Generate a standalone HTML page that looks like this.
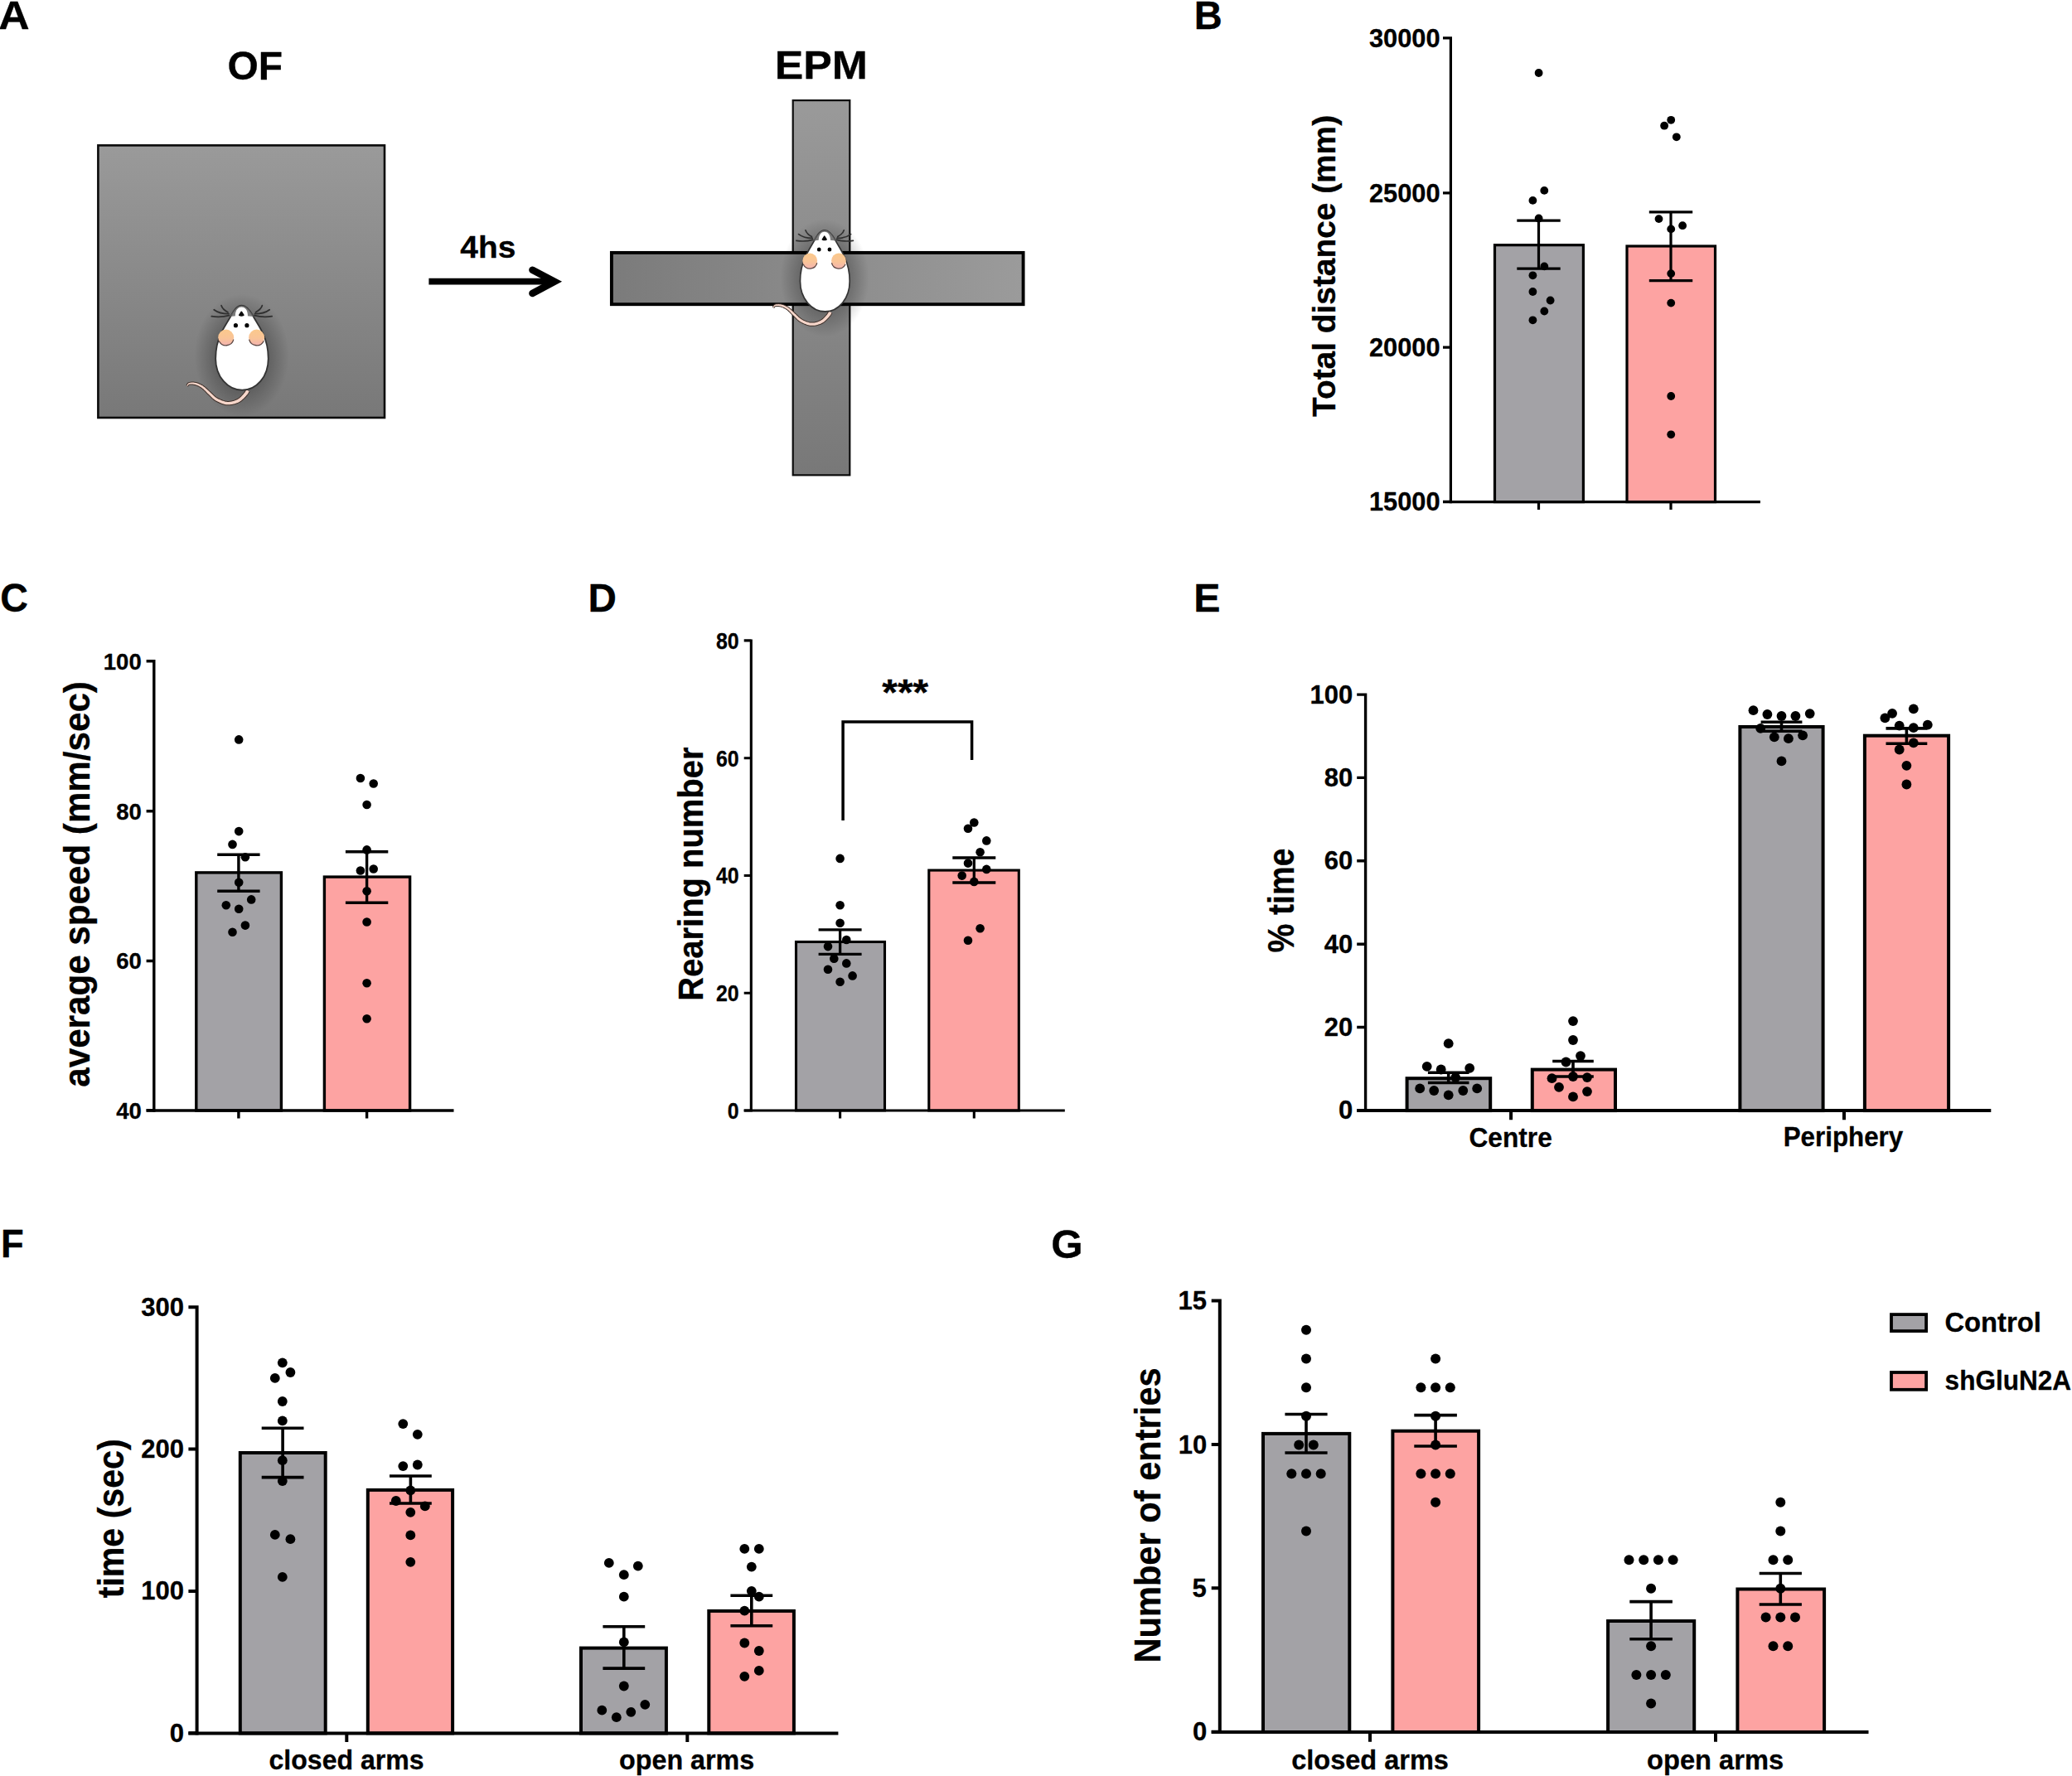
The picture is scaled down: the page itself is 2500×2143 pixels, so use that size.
<!DOCTYPE html>
<html lang="en"><head><meta charset="utf-8"><title>Figure</title>
<style>
html,body{margin:0;padding:0;background:#fff}
body{width:2500px;height:2143px;overflow:hidden}
svg{display:block}
text{font-family:"Liberation Sans", sans-serif;font-weight:bold;fill:#000;stroke:#000;stroke-width:.3px;stroke-linejoin:round}
</style></head><body>
<svg width="2500" height="2143" viewBox="0 0 2500 2143">
<defs>
<linearGradient id="gv" x1="0" y1="0" x2="0" y2="1"><stop offset="0" stop-color="#9a9a9a"/><stop offset="1" stop-color="#787878"/></linearGradient>
<linearGradient id="gh" x1="0" y1="0" x2="1" y2="0"><stop offset="0" stop-color="#7b7b7b"/><stop offset="1" stop-color="#9b9b9b"/></linearGradient>
<radialGradient id="sh" cx="0.5" cy="0.5" r="0.5"><stop offset="0" stop-color="#000" stop-opacity="0.42"/><stop offset="0.45" stop-color="#000" stop-opacity="0.3"/><stop offset="1" stop-color="#000" stop-opacity="0"/></radialGradient>
<linearGradient id="ear" x1="0" y1="0" x2="0" y2="1"><stop offset="0" stop-color="#fbc98c"/><stop offset="0.55" stop-color="#f9c497"/><stop offset="1" stop-color="#f3b3b0"/></linearGradient>
<g id="mouse">
<ellipse cx="0" cy="60" rx="58" ry="74" fill="url(#sh)"/>
<path d="M4.9 100.9L4.7 101.2L4.5 101.6L4.3 102.0L4.1 102.3L3.9 102.7L3.6 103.1L3.4 103.5L3.1 104.0L2.9 104.4L2.5 104.8L2.2 105.3L1.8 105.7L1.3 106.3L0.7 106.9L0.1 107.5L-0.5 108.2L-1.1 108.8L-1.8 109.5L-2.5 110.1L-3.2 110.7L-3.9 111.2L-4.6 111.7L-5.3 112.2L-6.0 112.6L-6.8 112.9L-7.7 113.3L-8.7 113.7L-9.6 114.0L-10.6 114.3L-11.7 114.6L-12.7 114.8L-13.7 115.0L-14.7 115.1L-15.7 115.2L-16.7 115.2L-17.6 115.2L-18.5 115.1L-19.5 115.0L-20.5 114.8L-21.5 114.5L-22.6 114.2L-23.6 113.8L-24.7 113.4L-25.7 113.0L-26.7 112.5L-27.7 112.1L-28.7 111.6L-29.5 111.1L-30.3 110.7L-31.0 110.2L-31.7 109.7L-32.4 109.2L-33.0 108.6L-33.7 108.0L-34.3 107.4L-35.0 106.8L-35.7 106.1L-36.4 105.5L-37.1 104.8L-37.8 104.1L-38.5 103.5L-39.3 102.9L-40.0 102.2L-40.7 101.5L-41.4 100.8L-42.2 100.1L-42.9 99.4L-43.7 98.8L-44.5 98.1L-45.3 97.5L-46.1 96.9L-46.9 96.3L-47.7 95.8L-48.5 95.3L-49.3 94.9L-50.1 94.5L-50.9 94.1L-51.7 93.7L-52.5 93.4L-53.3 93.1L-54.1 92.9L-54.9 92.6L-55.6 92.4L-56.4 92.3L-57.2 92.1L-58.0 92.0L-58.8 91.9L-59.6 91.9L-60.3 91.8L-61.1 91.9L-61.8 91.9L-62.5 92.0L-63.2 92.0L-63.8 92.2L-64.4 92.3L-65.0 92.5L-65.7 92.8L-66.2 93.1L-66.7 93.6L-67.1 94.0L-67.4 94.5L-67.6 94.9L-67.8 95.3L-67.9 95.7L-68.0 96.0L-68.1 96.2L-68.1 96.3L-68.2 96.4L-65.8 98.0L-65.7 97.8L-65.5 97.5L-65.3 97.2L-65.2 97.0L-65.0 96.7L-64.9 96.5L-64.7 96.3L-64.5 96.1L-64.4 96.0L-64.2 96.0L-64.1 95.9L-64.0 95.9L-63.7 95.9L-63.2 95.8L-62.8 95.8L-62.2 95.8L-61.7 95.8L-61.1 95.8L-60.5 95.8L-59.9 95.9L-59.2 96.0L-58.6 96.1L-58.0 96.2L-57.4 96.3L-56.8 96.5L-56.1 96.7L-55.5 97.0L-54.8 97.2L-54.2 97.5L-53.5 97.8L-52.8 98.1L-52.2 98.5L-51.5 98.8L-50.8 99.2L-50.1 99.7L-49.5 100.1L-48.9 100.6L-48.2 101.1L-47.6 101.7L-46.9 102.3L-46.2 102.9L-45.5 103.6L-44.8 104.3L-44.1 105.0L-43.4 105.8L-42.6 106.5L-41.9 107.2L-41.2 107.9L-40.5 108.5L-39.8 109.1L-39.2 109.8L-38.5 110.4L-37.9 111.1L-37.2 111.8L-36.4 112.5L-35.7 113.1L-34.9 113.8L-34.0 114.5L-33.0 115.1L-32.1 115.7L-31.1 116.2L-30.0 116.7L-29.0 117.3L-27.8 117.8L-26.7 118.3L-25.5 118.8L-24.3 119.2L-23.0 119.6L-21.8 120.0L-20.5 120.2L-19.3 120.5L-18.0 120.6L-16.7 120.6L-15.4 120.6L-14.2 120.5L-12.9 120.4L-11.7 120.2L-10.4 119.9L-9.2 119.6L-8.0 119.3L-6.8 118.9L-5.7 118.5L-4.6 118.1L-3.6 117.6L-2.5 117.1L-1.5 116.5L-0.5 115.8L0.4 115.1L1.3 114.4L2.1 113.6L2.9 112.9L3.6 112.2L4.3 111.5L4.9 110.8L5.5 110.2L6.0 109.7L6.6 109.1L7.1 108.5L7.6 107.9L8.0 107.3L8.4 106.7L8.7 106.1L9.0 105.6L9.3 105.2L9.5 104.8L9.7 104.5L9.8 104.3L9.9 104.1Z" fill="#3f302a"/>
<path d="M5.7 101.4L5.5 101.7L5.3 102.1L5.2 102.4L5.0 102.8L4.7 103.2L4.5 103.6L4.3 104.1L4.0 104.5L3.7 105.0L3.3 105.4L3.0 105.9L2.5 106.4L2.0 107.0L1.4 107.6L0.8 108.2L0.2 108.9L-0.4 109.5L-1.1 110.2L-1.8 110.8L-2.5 111.5L-3.3 112.1L-4.0 112.6L-4.8 113.1L-5.6 113.5L-6.4 113.9L-7.4 114.3L-8.3 114.6L-9.3 115.0L-10.4 115.3L-11.4 115.5L-12.5 115.8L-13.6 116.0L-14.6 116.1L-15.7 116.2L-16.7 116.2L-17.7 116.2L-18.7 116.1L-19.7 116.0L-20.8 115.7L-21.8 115.4L-22.9 115.1L-24.0 114.7L-25.1 114.3L-26.1 113.9L-27.2 113.4L-28.2 113.0L-29.1 112.5L-30.0 112.0L-30.8 111.5L-31.6 111.0L-32.3 110.5L-33.0 110.0L-33.7 109.4L-34.4 108.8L-35.0 108.1L-35.7 107.5L-36.4 106.9L-37.0 106.2L-37.8 105.5L-38.5 104.9L-39.2 104.3L-39.9 103.6L-40.7 102.9L-41.4 102.3L-42.1 101.6L-42.9 100.9L-43.6 100.2L-44.4 99.5L-45.1 98.9L-45.9 98.2L-46.7 97.7L-47.5 97.1L-48.2 96.6L-49.0 96.2L-49.8 95.8L-50.6 95.4L-51.4 95.0L-52.1 94.7L-52.9 94.4L-53.7 94.1L-54.4 93.8L-55.2 93.6L-55.9 93.4L-56.6 93.2L-57.4 93.1L-58.1 93.0L-58.9 92.9L-59.6 92.9L-60.4 92.8L-61.1 92.9L-61.8 92.9L-62.5 93.0L-63.1 93.0L-63.7 93.1L-64.2 93.3L-64.7 93.4L-65.2 93.7L-65.7 94.0L-66.0 94.3L-66.3 94.7L-66.5 95.0L-66.7 95.4L-66.9 95.8L-67.0 96.1L-67.1 96.4L-67.2 96.6L-67.3 96.8L-67.3 97.0L-66.7 97.4L-66.5 97.3L-66.4 97.0L-66.2 96.8L-66.1 96.5L-65.9 96.3L-65.7 96.0L-65.5 95.7L-65.3 95.5L-65.1 95.3L-64.8 95.2L-64.6 95.0L-64.3 95.0L-63.9 94.9L-63.4 94.8L-62.9 94.8L-62.3 94.8L-61.7 94.8L-61.1 94.8L-60.4 94.8L-59.8 94.9L-59.1 95.0L-58.4 95.1L-57.8 95.2L-57.2 95.4L-56.5 95.6L-55.9 95.8L-55.2 96.0L-54.5 96.3L-53.8 96.6L-53.1 96.9L-52.4 97.2L-51.7 97.6L-51.0 98.0L-50.3 98.4L-49.6 98.8L-48.9 99.3L-48.3 99.8L-47.6 100.3L-46.9 100.9L-46.2 101.5L-45.5 102.2L-44.8 102.9L-44.1 103.6L-43.4 104.3L-42.7 105.0L-42.0 105.8L-41.2 106.5L-40.5 107.1L-39.8 107.8L-39.2 108.4L-38.5 109.0L-37.8 109.7L-37.2 110.4L-36.5 111.0L-35.8 111.7L-35.0 112.4L-34.2 113.0L-33.4 113.6L-32.5 114.2L-31.6 114.8L-30.6 115.3L-29.6 115.9L-28.5 116.4L-27.4 116.9L-26.3 117.4L-25.1 117.8L-24.0 118.3L-22.8 118.6L-21.5 119.0L-20.3 119.3L-19.1 119.5L-17.9 119.6L-16.7 119.6L-15.5 119.6L-14.3 119.5L-13.1 119.4L-11.8 119.2L-10.6 118.9L-9.5 118.7L-8.3 118.3L-7.2 118.0L-6.1 117.6L-5.0 117.2L-4.0 116.7L-3.0 116.2L-2.0 115.6L-1.1 115.0L-0.2 114.3L0.6 113.6L1.4 112.9L2.2 112.2L2.9 111.5L3.5 110.8L4.2 110.2L4.7 109.6L5.3 109.0L5.8 108.4L6.3 107.8L6.8 107.3L7.2 106.7L7.6 106.2L7.9 105.6L8.2 105.2L8.4 104.7L8.6 104.3L8.8 104.0L9.0 103.8L9.1 103.6Z" fill="#f6d6ca"/>
<path d="M-15.5 12C-23 14-31 14-37 13M-16 10C-24 10-30 8-34 5M-17 8C-21 6-24 3-25 0M15.5 12C23 14 31 14 37 13M16 10C24 10 30 8 34 5M17 8C21 6 24 3 25 0" fill="none" stroke="#303030" stroke-width="1.8" stroke-linecap="round"/>
<path d="M0 0C6 0 10 6 13.5 12C18 20 23 27 25.5 33C30 42 32.5 52 32.5 64C32.5 86 18 102 0.5 102C-17 102-32 86-32 64C-32 52-29.5 42-25 33C-22.5 27-17.5 20-13 12C-9.5 6-6 0 0 0Z" fill="#fff" stroke="#333" stroke-width="1.8"/>
<path d="M-14.5 13.6C-10 6-6 0 0 0C6 0 10 6 15 13.6C11 12.6 7 12.6 4.8 12.5H-5.6C-8 12.6-11 12.6-14.5 13.6Z" fill="#666" opacity="0.85"/>
<path d="M-8 13C-8 5-4 1.9-0.3 1.9C3.6 1.9 7.4 5 7.4 13C3 14.5-4 14.5-8 13Z" fill="#fff"/>
<path d="M-0.4 7.6L2.2 11.6Q-0.4 12.8-3 11.6Z" fill="#0a0a0a" stroke="#0a0a0a" stroke-width="1.6" stroke-linejoin="round"/>
<circle cx="-7.4" cy="24" r="2.6" fill="#000"/><circle cx="6.3" cy="24" r="2.6" fill="#000"/>
<circle cx="-19.3" cy="38.5" r="9.6" fill="url(#ear)"/>
<path d="M-28 42.5A9.6 9.6 0 0 0-10 41" fill="none" stroke="#5a4440" stroke-width="1.3"/>
<circle cx="18.2" cy="38.5" r="9.6" fill="url(#ear)"/>
<path d="M27 42.5A9.6 9.6 0 0 1 9 41" fill="none" stroke="#5a4440" stroke-width="1.3"/>
</g>
</defs>
<rect width="2500" height="2143" fill="#fff"/>

<text x="-1.8" y="34.7" font-size="47.5" text-anchor="start" textLength="37.4" lengthAdjust="spacingAndGlyphs" >A</text>
<text x="1440.8" y="34.5" font-size="47.5" text-anchor="start" textLength="34" lengthAdjust="spacingAndGlyphs" >B</text>
<text x="0.3" y="738.2" font-size="47.5" text-anchor="start" textLength="33.7" lengthAdjust="spacingAndGlyphs" >C</text>
<text x="709.4" y="738.3" font-size="47.5" text-anchor="start" textLength="34.4" lengthAdjust="spacingAndGlyphs" >D</text>
<text x="1440.2" y="738.3" font-size="47.5" text-anchor="start" textLength="32.2" lengthAdjust="spacingAndGlyphs" >E</text>
<text x="0.9" y="1517.2" font-size="47.5" text-anchor="start" textLength="27.7" lengthAdjust="spacingAndGlyphs" >F</text>
<text x="1268.2" y="1517.8" font-size="47.5" text-anchor="start" textLength="38.4" lengthAdjust="spacingAndGlyphs" >G</text>
<rect x="118.4" y="175.4" width="345.6" height="328.6" fill="url(#gv)" stroke="#0a0a0a" stroke-width="2.6"/>
<text x="274.5" y="96.2" font-size="48.3" text-anchor="start" textLength="66.7" lengthAdjust="spacingAndGlyphs" stroke="#000" stroke-width="0.8" stroke-linejoin="round">OF</text>
<text x="934.7" y="95" font-size="48.4" text-anchor="start" textLength="112.2" lengthAdjust="spacingAndGlyphs" stroke="#000" stroke-width="0.8" stroke-linejoin="round">EPM</text>
<text x="555.3" y="310.5" font-size="37" text-anchor="start" textLength="67" lengthAdjust="spacingAndGlyphs" stroke="#000" stroke-width="0.8" stroke-linejoin="round">4hs</text>
<path d="M517.4 339.7H669" fill="none" stroke="#000" stroke-width="7.7"/>
<path d="M642.4 325.8L669 339.7L642.4 354" fill="none" stroke="#000" stroke-width="8.5" stroke-linecap="round" stroke-linejoin="miter" stroke-miterlimit="10"/>
<rect x="956.7" y="121.1" width="68.6" height="452.2" fill="url(#gv)" stroke="#0d0d0d" stroke-width="2.2"/>
<rect x="737.9" y="304.9" width="496.7" height="62.3" fill="url(#gh)" stroke="#000" stroke-width="3.9"/>
<use href="#mouse" transform="translate(291.7 368.7) scale(0.985 1)"/>
<use href="#mouse" transform="translate(995.1 277.8) scale(0.926 0.962)"/>
<rect x="1803.5" y="295.7" width="106.9" height="309.9" fill="#a3a2a6" stroke="#000" stroke-width="3.2"/>
<rect x="1963" y="297" width="106.5" height="308.6" fill="#fda3a2" stroke="#000" stroke-width="3.2"/>
<path d="M1750.4 44.3V607.2M1741 45.9H1750.4M1741 232.8H1750.4M1741 419.1H1750.4M1741 605.4H1750.4" fill="none" stroke="#000" stroke-width="3.2"/>
<path d="M1741 605.6H2123.9M1856.5 605.6V614.9M2016 605.6V614.9" fill="none" stroke="#000" stroke-width="3.2"/>
<text x="1651.9" y="56.9" font-size="30.8" text-anchor="start" textLength="85.7" lengthAdjust="spacingAndGlyphs" >30000</text>
<text x="1651.9" y="243.8" font-size="30.8" text-anchor="start" textLength="85.7" lengthAdjust="spacingAndGlyphs" >25000</text>
<text x="1651.9" y="430.1" font-size="30.8" text-anchor="start" textLength="85.7" lengthAdjust="spacingAndGlyphs" >20000</text>
<text x="1651.9" y="616.4" font-size="30.8" text-anchor="start" textLength="85.7" lengthAdjust="spacingAndGlyphs" >15000</text>
<path d="M1856.5 266.1V324.2M1830.3 266.1H1882.7M1830.3 324.2H1882.7M2016 255.8V338.6M1989.8 255.8H2042.2M1989.8 338.6H2042.2" fill="none" stroke="#000" stroke-width="3.2"/>
<circle cx="1856.6" cy="88" r="4.9"/>
<circle cx="1863.3" cy="229.9" r="4.9"/>
<circle cx="1849.4" cy="241.9" r="4.9"/>
<circle cx="1856.6" cy="263.5" r="4.9"/>
<circle cx="1863.3" cy="321.4" r="4.9"/>
<circle cx="1849.4" cy="332.3" r="4.9"/>
<circle cx="1849.4" cy="352" r="4.9"/>
<circle cx="1870.6" cy="362.5" r="4.9"/>
<circle cx="1863.3" cy="375.5" r="4.9"/>
<circle cx="1849.4" cy="386.3" r="4.9"/>
<circle cx="2016.2" cy="144.8" r="4.9"/>
<circle cx="2008.1" cy="151.7" r="4.9"/>
<circle cx="2022.8" cy="165.3" r="4.9"/>
<circle cx="2001.5" cy="264.1" r="4.9"/>
<circle cx="2030.1" cy="272.2" r="4.9"/>
<circle cx="2016.2" cy="276.4" r="4.9"/>
<circle cx="2016.2" cy="330.1" r="4.9"/>
<circle cx="2016.2" cy="365.6" r="4.9"/>
<circle cx="2016.2" cy="478" r="4.9"/>
<circle cx="2016.2" cy="524.3" r="4.9"/>
<text transform="translate(1611 502.9) rotate(-90)" font-size="39.3" text-anchor="start" textLength="364" lengthAdjust="spacingAndGlyphs" >Total distance (mm)</text>
<rect x="236.8" y="1052.9" width="102.6" height="287.1" fill="#a3a2a6" stroke="#000" stroke-width="3.4"/>
<rect x="391.4" y="1058.1" width="103.2" height="281.9" fill="#fda3a2" stroke="#000" stroke-width="3.4"/>
<path d="M185.8 796V1341.7M176.6 797.7H185.8M176.6 978.7H185.8M176.6 1159.5H185.8M176.6 1339.8H185.8" fill="none" stroke="#000" stroke-width="3.4"/>
<path d="M176.6 1340H547.5M287.9 1340V1349.5M442.6 1340V1349.5" fill="none" stroke="#000" stroke-width="3.4"/>
<text x="124.8" y="807.6" font-size="27.5" text-anchor="start" textLength="45.9" lengthAdjust="spacingAndGlyphs" >100</text>
<text x="140.2" y="988.6" font-size="27.5" text-anchor="start" textLength="30.6" lengthAdjust="spacingAndGlyphs" >80</text>
<text x="140.2" y="1169.4" font-size="27.5" text-anchor="start" textLength="30.6" lengthAdjust="spacingAndGlyphs" >60</text>
<text x="140.2" y="1349.7" font-size="27.5" text-anchor="start" textLength="30.6" lengthAdjust="spacingAndGlyphs" >40</text>
<path d="M287.9 1031.2V1075.2M262.2 1031.2H313.6M262.2 1075.2H313.6M442.6 1027.8V1089.2M416.9 1027.8H468.3M416.9 1089.2H468.3" fill="none" stroke="#000" stroke-width="3.4"/>
<circle cx="288.2" cy="892.4" r="5.3"/>
<circle cx="288.2" cy="1003.1" r="5.3"/>
<circle cx="280.5" cy="1018.9" r="5.3"/>
<circle cx="295.9" cy="1034.3" r="5.3"/>
<circle cx="288.2" cy="1064.7" r="5.3"/>
<circle cx="303.2" cy="1085.4" r="5.3"/>
<circle cx="272.8" cy="1092.2" r="5.3"/>
<circle cx="288.2" cy="1096.7" r="5.3"/>
<circle cx="295.9" cy="1116.6" r="5.3"/>
<circle cx="280.5" cy="1124.7" r="5.3"/>
<circle cx="434.9" cy="939" r="5.3"/>
<circle cx="450.7" cy="945.5" r="5.3"/>
<circle cx="442.6" cy="971" r="5.3"/>
<circle cx="442.6" cy="1025.4" r="5.3"/>
<circle cx="434.9" cy="1050.5" r="5.3"/>
<circle cx="450.7" cy="1048.5" r="5.3"/>
<circle cx="442.6" cy="1075.2" r="5.3"/>
<circle cx="442.6" cy="1112.5" r="5.3"/>
<circle cx="442.6" cy="1186.3" r="5.3"/>
<circle cx="442.6" cy="1229.3" r="5.3"/>
<text transform="translate(108.1 1311.7) rotate(-90)" font-size="44.4" text-anchor="start" textLength="489.6" lengthAdjust="spacingAndGlyphs" >average speed (mm/sec)</text>
<rect x="960.5" y="1136.5" width="107" height="203.4" fill="#a3a2a6" stroke="#000" stroke-width="3.1"/>
<rect x="1120.8" y="1050.1" width="108.5" height="289.9" fill="#fda3a2" stroke="#000" stroke-width="3.1"/>
<path d="M906.3 771.4V1341.5M897.7 772.9H906.3M897.7 914.7H906.3M897.7 1056.5H906.3M897.7 1198.2H906.3M897.7 1340H906.3" fill="none" stroke="#000" stroke-width="3.1"/>
<path d="M897.7 1340H1284.8M1013.6 1340V1349.5M1175.3 1340V1349.5" fill="none" stroke="#000" stroke-width="3.1"/>
<text x="864" y="782.8" font-size="27.5" text-anchor="start" textLength="27.7" lengthAdjust="spacingAndGlyphs" >80</text>
<text x="864" y="924.6" font-size="27.5" text-anchor="start" textLength="27.7" lengthAdjust="spacingAndGlyphs" >60</text>
<text x="864" y="1066.4" font-size="27.5" text-anchor="start" textLength="27.7" lengthAdjust="spacingAndGlyphs" >40</text>
<text x="864" y="1208.1" font-size="27.5" text-anchor="start" textLength="27.7" lengthAdjust="spacingAndGlyphs" >20</text>
<text x="877.8" y="1349.9" font-size="27.5" text-anchor="start" textLength="13.8" lengthAdjust="spacingAndGlyphs" >0</text>
<path d="M1013.6 1121.8V1151.4M987.6 1121.8H1039.6M987.6 1151.4H1039.6M1175.3 1035V1065M1149.3 1035H1201.3M1149.3 1065H1201.3" fill="none" stroke="#000" stroke-width="3.3"/>
<circle cx="1013.6" cy="1035.9" r="5.3"/>
<circle cx="1013.6" cy="1092.2" r="5.3"/>
<circle cx="1013.6" cy="1113.7" r="5.3"/>
<circle cx="1021.3" cy="1134" r="5.3"/>
<circle cx="999" cy="1142.1" r="5.3"/>
<circle cx="1006.3" cy="1156.7" r="5.3"/>
<circle cx="1021.3" cy="1162.4" r="5.3"/>
<circle cx="999" cy="1169.7" r="5.3"/>
<circle cx="1028.6" cy="1177.4" r="5.3"/>
<circle cx="1013.6" cy="1184.7" r="5.3"/>
<circle cx="1175.3" cy="992.5" r="5.3"/>
<circle cx="1168" cy="999.8" r="5.3"/>
<circle cx="1190.3" cy="1014.4" r="5.3"/>
<circle cx="1182.6" cy="1028.2" r="5.3"/>
<circle cx="1168" cy="1041.6" r="5.3"/>
<circle cx="1190.3" cy="1048.9" r="5.3"/>
<circle cx="1160.7" cy="1056.6" r="5.3"/>
<circle cx="1175.3" cy="1063.9" r="5.3"/>
<circle cx="1182.6" cy="1120.2" r="5.3"/>
<circle cx="1168" cy="1134.8" r="5.3"/>
<text transform="translate(848.4 1207.7) rotate(-90)" font-size="42.2" text-anchor="start" textLength="306.2" lengthAdjust="spacingAndGlyphs" >Rearing number</text>
<path d="M1017.1 990V871.1H1172.6V917.1" fill="none" stroke="#000" stroke-width="3.5"/>
<text x="1064.3" y="850.7" font-size="43.5" text-anchor="start" textLength="55.8" lengthAdjust="spacingAndGlyphs" >***</text>
<rect x="1697.6" y="1301.2" width="100.6" height="38.9" fill="#a3a2a6" stroke="#000" stroke-width="4.0"/>
<rect x="1848.8" y="1290.6" width="100.2" height="49.5" fill="#fda3a2" stroke="#000" stroke-width="4.0"/>
<rect x="2099.4" y="877" width="100.2" height="463.1" fill="#a3a2a6" stroke="#000" stroke-width="4.0"/>
<rect x="2249.9" y="887.7" width="101.2" height="452.4" fill="#fda3a2" stroke="#000" stroke-width="4.0"/>
<path d="M1647.6 836.4V1342.1M1637.2 838.1H1647.6M1637.2 938.4H1647.6M1637.2 1038.8H1647.6M1637.2 1139.2H1647.6M1637.2 1239.5H1647.6M1637.2 1339.9H1647.6" fill="none" stroke="#000" stroke-width="3.4"/>
<path d="M1637.2 1340.1H2402.3M1823.1 1340.1V1351.2M2225 1340.1V1351.2" fill="none" stroke="#000" stroke-width="4.0"/>
<text x="1580.4" y="848.5" font-size="32" text-anchor="start" textLength="51.8" lengthAdjust="spacingAndGlyphs" >100</text>
<text x="1597.7" y="948.8" font-size="32" text-anchor="start" textLength="34.5" lengthAdjust="spacingAndGlyphs" >80</text>
<text x="1597.7" y="1049.2" font-size="32" text-anchor="start" textLength="34.5" lengthAdjust="spacingAndGlyphs" >60</text>
<text x="1597.7" y="1149.6" font-size="32" text-anchor="start" textLength="34.5" lengthAdjust="spacingAndGlyphs" >40</text>
<text x="1597.7" y="1249.9" font-size="32" text-anchor="start" textLength="34.5" lengthAdjust="spacingAndGlyphs" >20</text>
<text x="1614.9" y="1350.3" font-size="32" text-anchor="start" textLength="17.3" lengthAdjust="spacingAndGlyphs" >0</text>
<path d="M1747.7 1294.3V1306.5M1722.9 1294.3H1772.5M1722.9 1306.5H1772.5M1898 1280.5V1299M1873.2 1280.5H1922.8M1873.2 1299H1922.8M2149.5 871.2V882.2M2124.6 871.2H2174.4M2124.6 882.2H2174.4M2300.4 878.9V897.3M2275.5 878.9H2325.3M2275.5 897.3H2325.3" fill="none" stroke="#000" stroke-width="3.6"/>
<circle cx="1747.7" cy="1259.2" r="5.9"/>
<circle cx="1721.7" cy="1286.8" r="5.9"/>
<circle cx="1738.7" cy="1290.5" r="5.9"/>
<circle cx="1773.2" cy="1288.9" r="5.9"/>
<circle cx="1756.2" cy="1300.1" r="5.9"/>
<circle cx="1713.2" cy="1313.4" r="5.9"/>
<circle cx="1730.2" cy="1316" r="5.9"/>
<circle cx="1747.7" cy="1321.3" r="5.9"/>
<circle cx="1765.3" cy="1316" r="5.9"/>
<circle cx="1782.2" cy="1313.4" r="5.9"/>
<circle cx="1898" cy="1232.1" r="5.9"/>
<circle cx="1898" cy="1255" r="5.9"/>
<circle cx="1907" cy="1274.1" r="5.9"/>
<circle cx="1889.5" cy="1281.5" r="5.9"/>
<circle cx="1872.5" cy="1301.2" r="5.9"/>
<circle cx="1898" cy="1299" r="5.9"/>
<circle cx="1915" cy="1300.1" r="5.9"/>
<circle cx="1881" cy="1311.8" r="5.9"/>
<circle cx="1915" cy="1317.1" r="5.9"/>
<circle cx="1898" cy="1323.4" r="5.9"/>
<circle cx="2115.5" cy="857.2" r="5.9"/>
<circle cx="2132.4" cy="862" r="5.9"/>
<circle cx="2149.5" cy="864" r="5.9"/>
<circle cx="2166.4" cy="864" r="5.9"/>
<circle cx="2183.7" cy="861.1" r="5.9"/>
<circle cx="2124.2" cy="878.9" r="5.9"/>
<circle cx="2140.8" cy="889.3" r="5.9"/>
<circle cx="2157.9" cy="891.2" r="5.9"/>
<circle cx="2175.1" cy="887.3" r="5.9"/>
<circle cx="2149.5" cy="918.4" r="5.9"/>
<circle cx="2308.8" cy="855.3" r="5.9"/>
<circle cx="2283.1" cy="860.8" r="5.9"/>
<circle cx="2274.4" cy="866.3" r="5.9"/>
<circle cx="2291.7" cy="875.6" r="5.9"/>
<circle cx="2308.8" cy="878.2" r="5.9"/>
<circle cx="2325.8" cy="874.6" r="5.9"/>
<circle cx="2308.8" cy="896.3" r="5.9"/>
<circle cx="2291.7" cy="904.5" r="5.9"/>
<circle cx="2300.4" cy="923.8" r="5.9"/>
<circle cx="2300.4" cy="946.5" r="5.9"/>
<text transform="translate(1561.3 1149.6) rotate(-90)" font-size="44" text-anchor="start" textLength="126" lengthAdjust="spacingAndGlyphs" >% time</text>
<text x="1772.5" y="1383.6" font-size="32.9" text-anchor="start" textLength="100.3" lengthAdjust="spacingAndGlyphs" >Centre</text>
<text x="2151.7" y="1383.3" font-size="32.9" text-anchor="start" textLength="144.5" lengthAdjust="spacingAndGlyphs" >Periphery</text>
<rect x="289.8" y="1753" width="102.9" height="338.4" fill="#a3a2a6" stroke="#000" stroke-width="4.0"/>
<rect x="443.8" y="1797.9" width="102.3" height="293.5" fill="#fda3a2" stroke="#000" stroke-width="4.0"/>
<rect x="701" y="1988.6" width="102.9" height="102.8" fill="#a3a2a6" stroke="#000" stroke-width="4.0"/>
<rect x="855.3" y="1943.9" width="102.6" height="147.5" fill="#fda3a2" stroke="#000" stroke-width="4.0"/>
<path d="M237.6 1575.2V2093.4M227.4 1577.2H237.6M227.4 1748.4H237.6M227.4 1919.9H237.6M227.4 2091.3H237.6" fill="none" stroke="#000" stroke-width="4.0"/>
<path d="M227.4 2091.4H1011.4M418.3 2091.4V2102M829.3 2091.4V2102" fill="none" stroke="#000" stroke-width="4.0"/>
<text x="170.2" y="1587.7" font-size="32" text-anchor="start" textLength="51.8" lengthAdjust="spacingAndGlyphs" >300</text>
<text x="170.2" y="1758.9" font-size="32" text-anchor="start" textLength="51.8" lengthAdjust="spacingAndGlyphs" >200</text>
<text x="170.2" y="1930.4" font-size="32" text-anchor="start" textLength="51.8" lengthAdjust="spacingAndGlyphs" >100</text>
<text x="204.7" y="2101.8" font-size="32" text-anchor="start" textLength="17.3" lengthAdjust="spacingAndGlyphs" >0</text>
<path d="M341.1 1723.2V1782.6M315.7 1723.2H366.5M315.7 1782.6H366.5M495.4 1781V1814M470 1781H520.8M470 1814H520.8M752.8 1962.7V2013.1M727.4 1962.7H778.2M727.4 2013.1H778.2M906.8 1925.3V1961.8M881.4 1925.3H932.2M881.4 1961.8H932.2" fill="none" stroke="#000" stroke-width="3.6"/>
<circle cx="340.8" cy="1644.3" r="5.9"/>
<circle cx="350.4" cy="1656" r="5.9"/>
<circle cx="331.8" cy="1662.9" r="5.9"/>
<circle cx="340.8" cy="1691" r="5.9"/>
<circle cx="340.8" cy="1714.4" r="5.9"/>
<circle cx="340.8" cy="1762.2" r="5.9"/>
<circle cx="340.8" cy="1787.1" r="5.9"/>
<circle cx="331.8" cy="1851.9" r="5.9"/>
<circle cx="350.4" cy="1857.2" r="5.9"/>
<circle cx="340.8" cy="1902.9" r="5.9"/>
<circle cx="486.3" cy="1718.1" r="5.9"/>
<circle cx="503.8" cy="1730.8" r="5.9"/>
<circle cx="486.3" cy="1769.1" r="5.9"/>
<circle cx="503.8" cy="1767.5" r="5.9"/>
<circle cx="495.3" cy="1798.3" r="5.9"/>
<circle cx="477.8" cy="1811" r="5.9"/>
<circle cx="512.8" cy="1817.4" r="5.9"/>
<circle cx="495.3" cy="1824.8" r="5.9"/>
<circle cx="495.3" cy="1852.4" r="5.9"/>
<circle cx="495.3" cy="1884.8" r="5.9"/>
<circle cx="734.8" cy="1885.9" r="5.9"/>
<circle cx="769.8" cy="1889.6" r="5.9"/>
<circle cx="752.8" cy="1900.2" r="5.9"/>
<circle cx="752.8" cy="1926.7" r="5.9"/>
<circle cx="752.8" cy="1981.4" r="5.9"/>
<circle cx="752.8" cy="2034.5" r="5.9"/>
<circle cx="778.3" cy="2056.8" r="5.9"/>
<circle cx="726.3" cy="2063.7" r="5.9"/>
<circle cx="761.3" cy="2065.8" r="5.9"/>
<circle cx="743.8" cy="2072.2" r="5.9"/>
<circle cx="898.3" cy="1868.9" r="5.9"/>
<circle cx="915.8" cy="1868.9" r="5.9"/>
<circle cx="906.8" cy="1890.6" r="5.9"/>
<circle cx="906.8" cy="1919.8" r="5.9"/>
<circle cx="915.8" cy="1926.7" r="5.9"/>
<circle cx="898.3" cy="1943.7" r="5.9"/>
<circle cx="898.3" cy="1982.5" r="5.9"/>
<circle cx="915.8" cy="1992" r="5.9"/>
<circle cx="915.8" cy="2015.9" r="5.9"/>
<circle cx="898.3" cy="2022.8" r="5.9"/>
<text transform="translate(149.2 1928.3) rotate(-90)" font-size="44.4" text-anchor="start" textLength="191.9" lengthAdjust="spacingAndGlyphs" >time (sec)</text>
<text x="324.5" y="2134.9" font-size="32.9" text-anchor="start" textLength="187.1" lengthAdjust="spacingAndGlyphs" >closed arms</text>
<text x="747.1" y="2134.9" font-size="32.9" text-anchor="start" textLength="163.1" lengthAdjust="spacingAndGlyphs" >open arms</text>
<rect x="1524" y="1729.9" width="104.3" height="360.1" fill="#a3a2a6" stroke="#000" stroke-width="4.0"/>
<rect x="1680.4" y="1726.7" width="103.7" height="363.3" fill="#fda3a2" stroke="#000" stroke-width="4.0"/>
<rect x="1940.1" y="1956" width="104.1" height="134" fill="#a3a2a6" stroke="#000" stroke-width="4.0"/>
<rect x="2096.4" y="1917.5" width="104.7" height="172.5" fill="#fda3a2" stroke="#000" stroke-width="4.0"/>
<path d="M1471.8 1567.6V2092M1461.7 1569.6H1471.8M1461.7 1743.1H1471.8M1461.7 1916.3H1471.8M1461.7 2089.7H1471.8" fill="none" stroke="#000" stroke-width="4.0"/>
<path d="M1461.7 2090H2254.5M1653 2090V2101.7M2070 2090V2101.7" fill="none" stroke="#000" stroke-width="4.0"/>
<text x="1421.4" y="1580.3" font-size="32" text-anchor="start" textLength="34.5" lengthAdjust="spacingAndGlyphs" >15</text>
<text x="1421.8" y="1753.8" font-size="32" text-anchor="start" textLength="34.5" lengthAdjust="spacingAndGlyphs" >10</text>
<text x="1438.6" y="1927" font-size="32" text-anchor="start" textLength="17.3" lengthAdjust="spacingAndGlyphs" >5</text>
<text x="1439" y="2100.4" font-size="32" text-anchor="start" textLength="17.3" lengthAdjust="spacingAndGlyphs" >0</text>
<path d="M1576 1706.5V1753M1550.4 1706.5H1601.6M1550.4 1753H1601.6M1732.1 1707.6V1745M1706.3 1707.6H1757.9M1706.3 1745H1757.9M1992.1 1932.6V1977.7M1966.3 1932.6H2017.9M1966.3 1977.7H2017.9M2148.3 1898.5V1936M2122.7 1898.5H2173.9M2122.7 1936H2173.9" fill="none" stroke="#000" stroke-width="3.6"/>
<circle cx="1576" cy="1604.8" r="6.0"/>
<circle cx="1576" cy="1639.5" r="6.0"/>
<circle cx="1576" cy="1674.2" r="6.0"/>
<circle cx="1576" cy="1708.8" r="6.0"/>
<circle cx="1567.2" cy="1743.5" r="6.0"/>
<circle cx="1584.8" cy="1743.5" r="6.0"/>
<circle cx="1558.3" cy="1778.2" r="6.0"/>
<circle cx="1576" cy="1778.2" r="6.0"/>
<circle cx="1593.7" cy="1778.2" r="6.0"/>
<circle cx="1576" cy="1847.5" r="6.0"/>
<circle cx="1732.1" cy="1639.5" r="6.0"/>
<circle cx="1714.4" cy="1674.2" r="6.0"/>
<circle cx="1732.1" cy="1674.2" r="6.0"/>
<circle cx="1749.8" cy="1674.2" r="6.0"/>
<circle cx="1732.1" cy="1708.8" r="6.0"/>
<circle cx="1732.1" cy="1743.5" r="6.0"/>
<circle cx="1714.4" cy="1778.2" r="6.0"/>
<circle cx="1732.1" cy="1778.2" r="6.0"/>
<circle cx="1749.8" cy="1778.2" r="6.0"/>
<circle cx="1732.1" cy="1812.8" r="6.0"/>
<circle cx="1965.5" cy="1882.2" r="6.0"/>
<circle cx="1983.2" cy="1882.2" r="6.0"/>
<circle cx="2000.9" cy="1882.2" r="6.0"/>
<circle cx="2018.6" cy="1882.2" r="6.0"/>
<circle cx="1992.1" cy="1916.8" r="6.0"/>
<circle cx="1992.1" cy="1986.2" r="6.0"/>
<circle cx="1974.4" cy="2020.9" r="6.0"/>
<circle cx="1992.1" cy="2020.9" r="6.0"/>
<circle cx="2009.8" cy="2020.9" r="6.0"/>
<circle cx="1992.1" cy="2055.5" r="6.0"/>
<circle cx="2148.3" cy="1812.8" r="6.0"/>
<circle cx="2148.3" cy="1847.5" r="6.0"/>
<circle cx="2139.5" cy="1882.2" r="6.0"/>
<circle cx="2157.2" cy="1882.2" r="6.0"/>
<circle cx="2148.3" cy="1916.8" r="6.0"/>
<circle cx="2130.6" cy="1951.5" r="6.0"/>
<circle cx="2148.3" cy="1951.5" r="6.0"/>
<circle cx="2166" cy="1951.5" r="6.0"/>
<circle cx="2139.5" cy="1986.2" r="6.0"/>
<circle cx="2157.2" cy="1986.2" r="6.0"/>
<text transform="translate(1399.9 2006.6) rotate(-90)" font-size="44.4" text-anchor="start" textLength="356.3" lengthAdjust="spacingAndGlyphs" >Number of entries</text>
<text x="1558.2" y="2134.7" font-size="32.9" text-anchor="start" textLength="189.7" lengthAdjust="spacingAndGlyphs" >closed arms</text>
<text x="1987.1" y="2134.7" font-size="32.9" text-anchor="start" textLength="165" lengthAdjust="spacingAndGlyphs" >open arms</text>
<rect x="2282" y="1586.1" width="42.1" height="20" fill="#a3a2a6" stroke="#000" stroke-width="3.8"/>
<rect x="2282" y="1656" width="42.1" height="20.8" fill="#fda3a2" stroke="#000" stroke-width="3.8"/>
<text x="2346.4" y="1606.5" font-size="32.5" text-anchor="start" textLength="116.5" lengthAdjust="spacingAndGlyphs" >Control</text>
<text x="2346.6" y="1677" font-size="32.5" text-anchor="start" textLength="152.4" lengthAdjust="spacingAndGlyphs" >shGluN2A</text>
</svg></body></html>
